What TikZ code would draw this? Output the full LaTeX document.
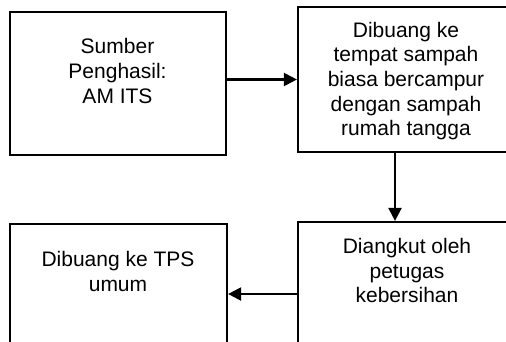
\documentclass[tikz,border=0pt]{standalone}
\usepackage{fontspec}
\setmainfont{Liberation Sans}
\usetikzlibrary{arrows.meta}
\begin{document}
\begin{tikzpicture}[x=1pt,y=-1pt,
  box/.style={draw=black,line width=2.2pt,minimum width=#1,inner sep=0pt},
  txt/.style={align=center,inner sep=0pt,font=\fontsize{21}{24.6}\selectfont},
  arr/.style={line width=2.2pt,-{Triangle[length=13pt,width=13pt]}}]
\useasboundingbox (0,0) rectangle (506,341);
\node[box=216pt,minimum height=143pt] (b1) at (118,83.5) {};
\node[box=216pt,minimum height=145pt] (b2) at (406,79.5) {};
\node[box=216pt,minimum height=140pt] (b3) at (406,292) {};
\node[box=217pt,minimum height=136pt] (b4) at (118.5,292) {};
\node[txt] (t1) at (117.5,71) {Sumber\\Penghasil:\\AM ITS};
\node[txt] (t2) at (406,81) {Dibuang ke\\tempat sampah\\biasa bercampur\\dengan sampah\\rumah tangga};
\node[txt] (t3) at (407,270.5) {Diangkut oleh\\petugas\\kebersihan};
\node[txt] (t4) at (118,271.5) {Dibuang ke TPS\\umum};
\coordinate (vx) at (395,0);
\coordinate (hy) at (0,294);
\draw[arr] (b1.east |- b2.west) -- (b2.west);
\draw[arr] (vx |- b2.south) -- (vx |- b3.north);
\draw[arr] (b3.west |- hy) -- (b4.east |- hy);
\end{tikzpicture}
\end{document}
